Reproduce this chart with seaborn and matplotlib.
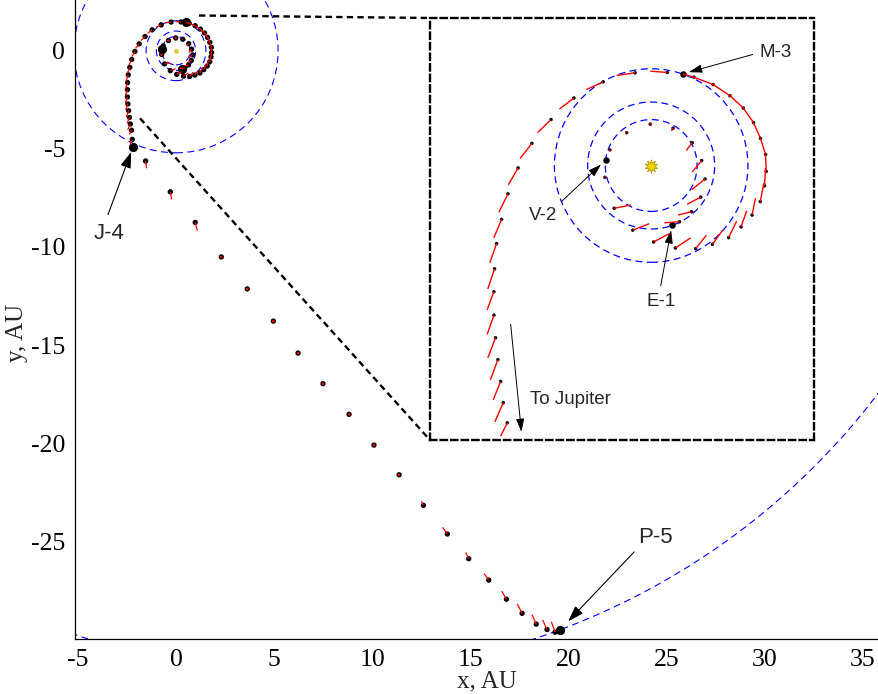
import numpy as np
import pandas as pd
import matplotlib
matplotlib.use("Agg")
import matplotlib.pyplot as plt
import seaborn as sns
from matplotlib.collections import LineCollection
from matplotlib.patches import Circle, Ellipse

# ---------------- trajectory nodes (AU, ecliptic frame) ----------------
traj_x = [0.329, 0.446, 0.636, 0.779, 0.848, 0.795, 0.647, 0.345, -0.015, -0.386, -0.650, -0.719,
          -0.730, -0.582, -0.290, 0.038, 0.382, 0.700, 0.965, 1.219, 1.415, 1.589, 1.717, 1.785,
          1.812, 1.801, 1.722, 1.611, 1.452, 1.240, 0.975, 0.673, 0.499,
          0.255, -0.253, -0.756, -1.217, -1.577, -1.879, -2.096, -2.255, -2.356, -2.435, -2.467,
          -2.477, -2.477, -2.451, -2.414, -2.371, -2.329, -2.266, -2.230, -2.200,
          -1.55, -0.29, 0.98, 2.31, 3.63, 4.96, 6.22, 7.49, 8.82, 10.09, 11.37, 12.61, 13.83,
          14.92, 15.94, 16.84, 17.64, 18.36, 18.91, 19.32, 19.55]
traj_y = [-0.939, -0.886, -0.727, -0.499, -0.213, 0.078, 0.359, 0.586, 0.650, 0.517, 0.247, 0.083,
          -0.187, -0.674, -1.018, -1.204, -1.299, -1.309, -1.241, -1.135, -0.965, -0.780, -0.568, -0.319,
          -0.092, 0.173, 0.427, 0.676, 0.904, 1.100, 1.275, 1.391, 1.444,
          1.465, 1.460, 1.317, 1.063, 0.724, 0.348, -0.039, -0.446, -0.849, -1.230, -1.627,
          -1.987, -2.358, -2.713, -3.057, -3.401, -3.735, -4.053, -4.52, -4.93,
          -5.62, -7.19, -8.75, -10.51, -12.14, -13.78, -15.41, -16.97, -18.53, -20.10, -21.61, -23.17, -24.63,
          -25.89, -26.98, -27.95, -28.67, -29.22, -29.50, -29.63, -29.54]

# thrust vectors attached to each node (AU)
thrust_u = [0, -0.238, -0.212, -0.212, -0.212, -0.148, -0.095, -0.026, 0, 0, 0, 0,
            0, 0.265, 0.259, 0.249, 0.238, 0.169, 0.159, 0.127, 0.090, 0.053, 0.058, 0.016,
            -0.011, -0.079, -0.111, -0.159, -0.212, -0.265, -0.302, -0.175, 0,
            -0.270, -0.291, -0.265, -0.228, -0.212, -0.185, -0.154, -0.143, -0.122, -0.106, -0.106,
            -0.106, -0.106, -0.122, -0.117, -0.117, -0.132, -0.106, -0.10, 0,
            0.05, 0.07, 0.10, 0, 0, 0, 0, 0, 0, 0, 0, -0.10, -0.24,
            -0.15, -0.24, -0.24, -0.25, -0.22, -0.22, -0.19, 0]
thrust_v = [0, -0.016, -0.053, -0.111, -0.169, -0.180, -0.122, -0.042, 0, 0, 0, 0,
            0, 0.053, 0.101, 0.132, 0.159, 0.212, 0.222, 0.259, 0.254, 0.265, 0.291, 0.281,
            0.265, 0.254, 0.249, 0.228, 0.196, 0.175, 0.116, 0.053, 0,
            0.021, -0.042, -0.122, -0.175, -0.207, -0.238, -0.265, -0.291, -0.291, -0.302, -0.318,
            -0.286, -0.302, -0.318, -0.318, -0.291, -0.302, -0.212, -0.25, 0,
            -0.37, -0.39, -0.42, 0, 0, 0, 0, 0, 0, 0, 0, 0.20, 0.34,
            0.32, 0.34, 0.41, 0.48, 0.49, 0.49, 0.53, 0]

# planetary encounters
enc_names = ["E-1", "V-2", "M-3", "J-4", "P-5"]
enc_index = [0, 11, 32, 52, 73]

# planet orbits: circular radii (Venus, Earth, Mars, Jupiter) and Pluto's conic
orbit_radius = [0.723, 1.0, 1.524, 5.203]
pluto_p, pluto_e, pluto_peri_deg = 33.74, 0.226, -158.5

# ---------------- styling ----------------
sns.set_style("white")
plt.rcParams["font.family"] = ["Liberation Serif", "DejaVu Serif"]
plt.rcParams["axes.unicode_minus"] = False
plt.rcParams["lines.scale_dashes"] = False
SANS = ["Liberation Sans", "DejaVu Sans"]
BLUE_DASH = (0, (5.0, 3.2))
BLACK_DASH = (0, (4.6, 3.0))

df = pd.DataFrame({"x": traj_x, "y": traj_y, "u": thrust_u, "v": thrust_v})
df["coast"] = (df["u"] == 0) & (df["v"] == 0)
enc = df.loc[enc_index]
nodes = df.drop(index=enc_index)
burns = df[~df["coast"]]
segments = [[(r.x, r.y), (r.x + r.u, r.y + r.v)] for r in burns.itertuples()]


def draw_orbits(axis, radii, lw):
    for r in radii:
        axis.add_patch(Circle((0, 0), r, fill=False, ec="#0000ff", lw=lw,
                              ls=BLUE_DASH, zorder=1))


fig = plt.figure(figsize=(8.79, 6.94), dpi=100)
fig.patch.set_facecolor("white")

# ---------------- main panel ----------------
ax = fig.add_axes([75 / 879, 55 / 694, 804 / 879, 639 / 694])
draw_orbits(ax, orbit_radius, 0.8)

a_p = pluto_p / (1 - pluto_e ** 2)
b_p = a_p * np.sqrt(1 - pluto_e ** 2)
w = np.deg2rad(pluto_peri_deg)
ctr = (-a_p * pluto_e * np.cos(w), -a_p * pluto_e * np.sin(w))
ax.add_patch(Ellipse(ctr, 2 * a_p, 2 * b_p, angle=pluto_peri_deg, fill=False,
                     ec="#0000ff", lw=0.8, ls=BLUE_DASH, zorder=1))

sns.scatterplot(data=nodes, x="x", y="y", hue="coast",
                palette={False: "black", True: "red"}, edgecolor="black",
                linewidth=1.0, s=8, legend=False, ax=ax, zorder=3)
sns.scatterplot(data=enc, x="x", y="y", color="black", edgecolor="black",
                linewidth=0, s=44, legend=False, ax=ax, zorder=3.5)
ax.add_collection(LineCollection(segments, colors="red", linewidths=0.9, zorder=4))
ax.scatter([0], [0], s=7, color="#f0d400", edgecolor="#a89400", linewidth=0.3, zorder=5)

# zoom connectors toward the inset frame
ax.plot([1.172, 12.946], [1.794, 1.667], color="black", lw=1.7, ls=BLACK_DASH, zorder=2)
ax.plot([-1.835, 12.946], [-3.445, -19.84], color="black", lw=1.7, ls=BLACK_DASH, zorder=2)

arrow_main = dict(arrowstyle="-|>,head_length=0.75,head_width=0.25", color="black",
                  lw=0.8, mutation_scale=13)
ax.annotate("J-4", xy=(enc.x.iloc[3], enc.y.iloc[3]), xytext=(-3.39, -9.32),
            ha="center", va="center", fontsize=16, family=SANS,
            arrowprops=dict(arrow_main, relpos=(0.35, 1.0), shrinkA=4, shrinkB=3.5))
ax.annotate("P-5", xy=(enc.x.iloc[4], enc.y.iloc[4]), xytext=(24.44, -24.79),
            ha="center", va="center", fontsize=16, family=SANS,
            arrowprops=dict(arrow_main, relpos=(0.0, 0.0), shrinkA=1, shrinkB=9))

ax.set_xlim(-5.148, 35.83)
ax.set_ylim(-29.98, 2.584)
ax.set_xticks(np.arange(-5, 40, 5))
ax.set_yticks(np.arange(-25, 5, 5))
ax.tick_params(direction="in", length=6, width=0.8, labelsize=18.5, pad=7,
               colors="black")
for side in ("top", "right"):
    ax.spines[side].set_visible(False)
for side in ("left", "bottom"):
    ax.spines[side].set_color("black")
    ax.spines[side].set_linewidth(0.9)
ax.set_xlabel("x, AU", fontsize=18)
ax.set_ylabel("y, AU", fontsize=18)
ax.xaxis.set_label_coords(0.5124, -0.049)
ax.yaxis.set_label_coords(-0.058, 0.479)

# ---------------- inset: inner solar system ----------------
ins = fig.add_axes([430 / 879, (694 - 440) / 694, 384 / 879, 422 / 694])
ins.set_facecolor("none")
draw_orbits(ins, orbit_radius[:3], 0.9)
sns.scatterplot(data=nodes, x="x", y="y", hue="coast",
                palette={False: "black", True: "#8b0000"}, edgecolor="black",
                linewidth=0.25, s=5, legend=False, ax=ins, zorder=3)
sns.scatterplot(data=enc, x="x", y="y", color="black", edgecolor="black",
                linewidth=0, s=22, legend=False, ax=ins, zorder=3.5)
ins.add_collection(LineCollection(segments, colors="red", linewidths=1.0, zorder=4))
ins.scatter([0], [0], s=90, marker=(10, 1, 0), color="#f2d600",
            edgecolor="#b59a00", linewidth=0.6, zorder=5)

arrow_ins = dict(arrowstyle="-|>,head_length=0.8,head_width=0.25", color="black",
                 lw=0.7, mutation_scale=10)
ins.annotate("M-3", xy=(enc.x.iloc[2], enc.y.iloc[2]), xytext=(1.713, 1.78),
             ha="left", va="center", fontsize=13.5, family=SANS,
             arrowprops=dict(arrow_ins, relpos=(0.0, 0.5), shrinkA=3, shrinkB=4.5))
ins.annotate("V-2", xy=(enc.x.iloc[1], enc.y.iloc[1]), xytext=(-1.696, -0.787),
             ha="center", va="center", fontsize=13.5, family=SANS,
             arrowprops=dict(arrow_ins, relpos=(0.93, 1.0), shrinkA=2, shrinkB=4.4))
ins.annotate("E-1", xy=(enc.x.iloc[0], enc.y.iloc[0]), xytext=(0.151, -2.143),
             ha="center", va="center", fontsize=13.5, family=SANS,
             arrowprops=dict(arrow_ins, relpos=(0.45, 1.0), shrinkA=3, shrinkB=3.7))
ins.annotate("", xy=(-2.043, -4.195), xytext=(-2.213, -2.501),
             arrowprops=dict(arrow_ins, shrinkA=0, shrinkB=0))
ins.text(-1.906, -3.693, "To Jupiter", ha="left", va="center", fontsize=13.5, family=SANS)

ins.set_xlim(-3.483, 2.564)
ins.set_ylim(-4.323, 2.323)
ins.set_xticks([])
ins.set_yticks([])
ins.set_xlabel("")
ins.set_ylabel("")
for sp in ins.spines.values():
    sp.set_visible(True)
    sp.set_color("black")
    sp.set_linewidth(1.7)
    sp.set_linestyle(BLACK_DASH)

fig.savefig("out.png", dpi=100, facecolor="white")
